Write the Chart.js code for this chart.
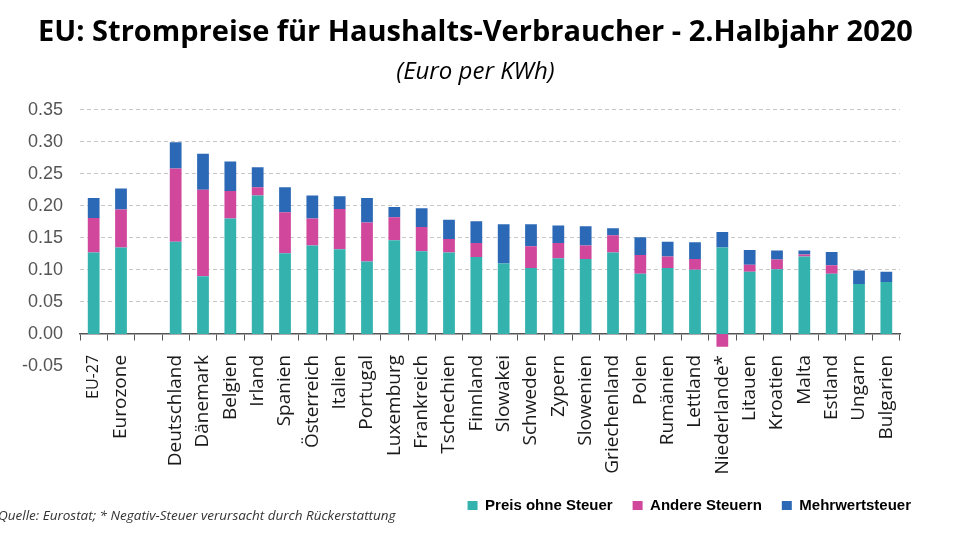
<!DOCTYPE html>
<html>
<head>
<meta charset="utf-8">
<script src="https://cdn.jsdelivr.net/npm/chart.js@4"></script>
<style>
  html, body { margin: 0; padding: 0; background: #fff; }
  #wrap { width: 960px; height: 540px; }
</style>
</head>
<body>
<div id="wrap"><canvas id="strompreise"></canvas></div>
<script>
// EU electricity prices for households, 2nd half 2020 (Euro per kWh)
const categories = ['EU-27', 'Eurozone', '', 'Deutschland', 'Dänemark', 'Belgien', 'Irland', 'Spanien',
    'Österreich', 'Italien', 'Portugal', 'Luxemburg', 'Frankreich', 'Tschechien', 'Finnland', 'Slowakei',
    'Schweden', 'Zypern', 'Slowenien', 'Griechenland', 'Polen', 'Rumänien', 'Lettland', 'Niederlande*',
    'Litauen', 'Kroatien', 'Malta', 'Estland', 'Ungarn', 'Bulgarien'];

const preisOhneSteuer = [0.127, 0.135, null, 0.144, 0.090, 0.180, 0.216, 0.126, 0.138, 0.132, 0.113, 0.146,
    0.129, 0.127, 0.120, 0.110, 0.103, 0.118, 0.117, 0.127, 0.094, 0.103, 0.100, 0.135, 0.097, 0.101,
    0.121, 0.094, 0.078, 0.081];
const andereSteuern = [0.054, 0.059, null, 0.114, 0.135, 0.043, 0.013, 0.064, 0.042, 0.063, 0.061, 0.036,
    0.038, 0.021, 0.022, 0.000, 0.034, 0.024, 0.021, 0.027, 0.029, 0.018, 0.017, -0.020, 0.011, 0.015,
    0.003, 0.013, 0.000, 0.000];
const mehrwertsteuer = [0.031, 0.033, null, 0.041, 0.056, 0.046, 0.031, 0.039, 0.036, 0.020, 0.038, 0.016,
    0.029, 0.030, 0.034, 0.061, 0.034, 0.027, 0.030, 0.011, 0.028, 0.023, 0.026, 0.024, 0.023, 0.014,
    0.006, 0.021, 0.021, 0.016];

const yTicks = { min: -0.05, max: 0.35, step: 0.05 };
const footnote = 'Quelle: Eurostat; * Negativ-Steuer verursacht durch Rückerstattung';

// === Footnote in the lower left corner ===
const footnotePlugin = {
    id: 'footnote',
    afterDraw(chart) {
        const ctx = chart.ctx;
        ctx.save();
        ctx.font = 'italic 13.5px "Open Sans"';
        ctx.fillStyle = '#333';
        ctx.textBaseline = 'middle';
        ctx.fillText(footnote, -2, 516);
        ctx.restore();
    }
};

const ctx = document.getElementById('strompreise').getContext('2d');
new Chart(ctx, {
    type: 'bar',
    data: {
        labels: categories,
        datasets: [
            { label: 'Preis ohne Steuer', data: preisOhneSteuer, backgroundColor: '#33b2ae' },
            { label: 'Andere Steuern', data: andereSteuern, backgroundColor: '#d0479c' },
            { label: 'Mehrwertsteuer', data: mehrwertsteuer, backgroundColor: '#2b68b5' },
        ]
    },
    options: {
        responsive: true,
        maintainAspectRatio: false,
        animation: false,
        datasets: {
            bar: { barPercentage: 0.43, categoryPercentage: 1 }
        },
        layout: { padding: { top: 0, left: 20, right: 29, bottom: 17 } },
        scales: {
            x: {
                stacked: true,
                position: { y: 0 },
                grid: { drawOnChartArea: false, drawTicks: true, tickLength: 6, color: '#555', offset: true },
                border: { display: true, color: '#555', width: 1.5 },
                ticks: {
                    autoSkip: false,
                    minRotation: 90,
                    maxRotation: 90,
                    padding: 15,
                    color: '#1a1a1a',
                    font: (c) => ({ family: 'Open Sans', size: c.index === 0 ? 16 : 19 })
                }
            },
            // room below the plot for the country names, which hang off the zero line
            labelSpace: {
                type: 'category',
                position: 'bottom',
                afterFit: (scale) => { scale.height = 112; },
                grid: { display: false },
                border: { display: false },
                ticks: { display: false }
            },
            y: {
                stacked: true,
                min: yTicks.min,
                max: yTicks.max,
                afterFit: (scale) => { scale.width = 60; },
                border: { display: false, dash: [4, 3] },
                grid: {
                    drawTicks: false,
                    color: (c) => (c.tick && c.tick.value > 0.001 ? '#c8c8c8' : 'rgba(0,0,0,0)')
                },
                ticks: {
                    stepSize: yTicks.step,
                    padding: 17,
                    color: '#555',
                    font: { family: 'Liberation Sans', size: 18 },
                    callback: (v) => (Math.abs(v) < 1e-9 ? 0 : Number(v)).toFixed(2)
                }
            },
            // keeps the plot narrower than the legend row on the right
            rightSpace: {
                type: 'linear',
                position: 'right',
                afterFit: (scale) => { scale.width = 31; },
                grid: { display: false },
                border: { display: false },
                ticks: { display: false }
            }
        },
        plugins: {
            title: {
                display: true,
                text: 'EU: Strompreise für Haushalts-Verbraucher - 2.Halbjahr 2020',
                color: '#000',
                font: { family: 'Open Sans', size: 29, weight: 'bold' },
                padding: { top: 15, bottom: 8 }
            },
            subtitle: {
                display: true,
                text: '(Euro per KWh)',
                color: '#000',
                font: { family: 'Open Sans', size: 24, style: 'italic' },
                padding: { top: 0, bottom: 23 }
            },
            legend: {
                position: 'bottom',
                align: 'end',
                labels: {
                    boxWidth: 10,
                    boxHeight: 9,
                    padding: 20,
                    color: '#000',
                    font: { family: 'Liberation Sans', size: 15, weight: 'bold' }
                }
            },
            tooltip: { enabled: false }
        }
    },
    plugins: [footnotePlugin]
});
</script>
</body>
</html>
